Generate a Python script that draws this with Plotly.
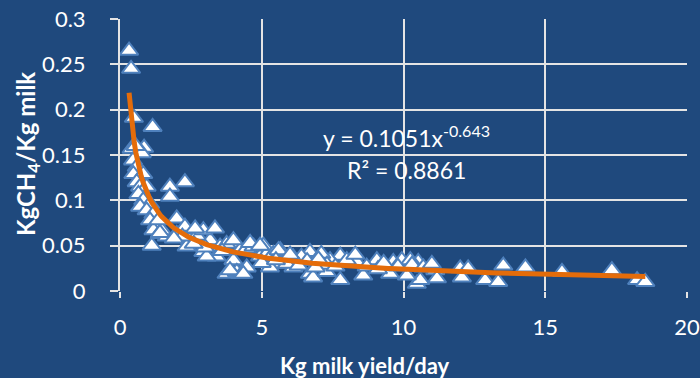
import plotly.graph_objects as go
import numpy as np

# Observed data: milk yield (kg/day) vs methane per kg milk
milk_yield = [
    0.32, 0.39, 0.49, 1.15, 0.41, 0.85, 0.77, 0.46, 0.59, 0.47, 0.82, 0.59, 0.71, 0.94,
    0.65, 0.82, 1.06, 0.71, 0.94, 1.18, 1.06, 1.29, 1.41, 1.65, 2.00, 2.47, 2.71, 3.18,
    3.53, 3.41, 4.00, 4.24, 4.47, 4.94, 5.18, 5.65, 6.12, 3.76, 4.24,
    1.76, 2.29, 1.76, 2.00, 2.29, 2.94, 3.35, 1.12, 1.18, 1.47, 2.35, 2.94, 3.06, 3.76,
    4.00, 4.12, 4.47, 4.71, 5.06, 5.29, 5.65, 5.88, 5.41, 1.41, 2.65, 3.88, 4.35, 4.59,
    6.70, 4.94, 5.65, 7.77, 7.77, 6.70, 9.06, 10.47, 9.64, 8.12,
    10.52, 10.59, 11.12, 12.00, 12.28, 12.06, 12.88, 13.34, 13.52, 14.30, 15.59, 17.35,
    18.24, 18.53, 9.94, 10.24, 8.35, 8.00, 7.41, 6.81, 7.29, 8.58, 9.53, 10.12, 11.18,
    5.59, 6.11, 6.40, 6.60, 7.10, 7.30, 7.60, 8.30, 8.70, 9.10, 9.30, 9.80, 10.30, 10.70,
    11.00, 5.00, 5.50, 6.00, 6.30, 6.90, 7.00, 3.00, 3.60, 2.20, 1.90, 2.60, 1.35, 0.55,
]
ch4_per_milk = [
    0.265, 0.245, 0.191, 0.181, 0.157, 0.158, 0.152, 0.144, 0.137, 0.129, 0.129, 0.120,
    0.115, 0.115, 0.107, 0.100, 0.096, 0.093, 0.089, 0.085, 0.078, 0.074, 0.063, 0.060,
    0.063, 0.056, 0.061, 0.056, 0.049, 0.038, 0.034, 0.045, 0.047, 0.038, 0.041, 0.030,
    0.026, 0.019, 0.019,
    0.115, 0.120, 0.104, 0.080, 0.071, 0.067, 0.069, 0.050, 0.067, 0.067, 0.049, 0.043,
    0.038, 0.052, 0.056, 0.021, 0.026, 0.049, 0.050, 0.026, 0.045, 0.030, 0.041, 0.064,
    0.069, 0.023, 0.019, 0.053,
    0.043, 0.050, 0.043, 0.039, 0.012, 0.019, 0.034, 0.008, 0.032, 0.032,
    0.032, 0.012, 0.023, 0.025, 0.025, 0.015, 0.012, 0.010, 0.028, 0.026, 0.021, 0.023,
    0.012, 0.010, 0.034, 0.034, 0.032, 0.034, 0.034, 0.015, 0.021, 0.017, 0.019, 0.017,
    0.014, 0.045, 0.037, 0.038, 0.033, 0.041, 0.029, 0.027, 0.040, 0.027, 0.024, 0.031,
    0.027, 0.029, 0.026, 0.030, 0.031, 0.034, 0.040, 0.028, 0.026, 0.035, 0.048, 0.044,
    0.060, 0.058, 0.052, 0.078, 0.160,
]

# Power trendline parameters (as displayed)
coef_a = 0.1051
coef_b = -0.643
r_squared = 0.8861

x_ticks = [0, 5, 10, 15, 20]
y_ticks = [0, 0.05, 0.1, 0.15, 0.2, 0.25, 0.3]
y_tick_labels = ["0", "0.05", "0.1", "0.15", "0.2", "0.25", "0.3"]

BG = "#1F497D"
GRID = "#E4E4E4"
FONT = "Lato, 'Open Sans', sans-serif"

trend_x = np.linspace(min(milk_yield), max(milk_yield), 300)
trend_y = coef_a * trend_x ** coef_b

fig = go.Figure()
fig.add_trace(go.Scatter(
    x=milk_yield, y=ch4_per_milk, mode="markers",
    marker=dict(symbol="triangle-up", size=16, color="white",
                line=dict(color="#4F81BD", width=2)),
    showlegend=False, hoverinfo="x+y",
))
fig.add_trace(go.Scatter(
    x=trend_x, y=trend_y, mode="lines",
    line=dict(color="#E46C0A", width=5),
    showlegend=False, hoverinfo="skip",
))

fig.add_annotation(
    x=10.1, y=0.1705, xref="x", yref="y", showarrow=False, yanchor="middle",
    text=f"y = {coef_a}x<sup>{coef_b}</sup>",
    font=dict(family=FONT, size=23, color="white"),
)
fig.add_annotation(
    x=10.1, y=0.134, xref="x", yref="y", showarrow=False, yanchor="middle",
    text=f"R² = {r_squared}",
    font=dict(family=FONT, size=23, color="white"),
)
# Axis titles (positions given in page pixels, converted below)
fig.add_annotation(
    x=365, y=378 - 365, xref="paper", yref="paper", showarrow=False,
    xanchor="center", yanchor="middle",
    text="<b>Kg milk yield/day</b>", font=dict(family=FONT, size=22, color="white"),
)
fig.add_annotation(
    x=27, y=378 - 154, xref="paper", yref="paper", showarrow=False, textangle=-90,
    xanchor="center", yanchor="middle",
    text="<b>KgCH<sub>4</sub>/Kg milk</b>", font=dict(family=FONT, size=24, color="white"),
)

fig.update_layout(
    width=700, height=378,
    margin=dict(l=120, r=13, t=19, b=87),
    paper_bgcolor=BG, plot_bgcolor=BG,
    font=dict(family=FONT, color="white", size=22),
    xaxis=dict(
        range=[0, 20], tickvals=x_ticks, showgrid=True, gridcolor=GRID,
        gridwidth=2, zeroline=False, showline=False, automargin=False,
        ticks="outside", ticklen=6, tickcolor=GRID, tickwidth=2,
        ticklabelstandoff=11,
        tickfont=dict(size=22, color="white"),
    ),
    yaxis=dict(
        range=[0, 0.3], tickvals=y_ticks, ticktext=y_tick_labels,
        showgrid=True, gridcolor=GRID, gridwidth=2, zeroline=False, showline=True,
        linecolor=GRID, linewidth=2, automargin=False,
        ticks="outside", ticklen=8, tickcolor=GRID, tickwidth=2,
        ticklabelstandoff=20,
        tickfont=dict(size=22, color="white"),
    ),
)

# convert page-pixel annotation positions to paper fractions
plot_w = 700 - 120 - 13
plot_h = 378 - 19 - 87
for ann in fig.layout.annotations:
    if ann.xref == "paper":
        ann.x = (ann.x - 120) / plot_w
        ann.y = (ann.y - 87) / plot_h

fig.write_html("out.html")
